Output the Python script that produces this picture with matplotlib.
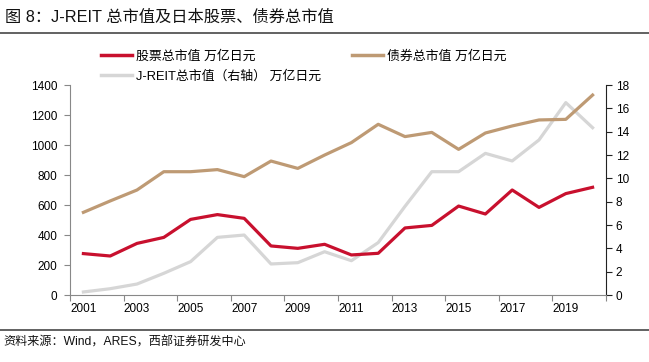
import matplotlib
matplotlib.use("Agg")
import matplotlib.pyplot as plt
from matplotlib.lines import Line2D

plt.rcParams['font.family'] = ['Liberation Sans', 'Noto Sans CJK SC', 'DejaVu Sans']

years = list(range(2001, 2021))
stocks = [276, 260, 344, 384, 504, 536, 511, 327, 311, 338, 267, 278, 447, 464,
          593, 540, 700, 584, 676, 718]
bonds = [551, 627, 700, 822, 822, 836, 789, 893, 844, 933, 1016, 1138, 1056, 1084,
         971, 1080, 1127, 1167, 1171, 1333]
jreit = [0.26, 0.54, 0.94, 1.86, 2.86, 4.94, 5.14, 2.66, 2.77, 3.71, 2.94, 4.49,
         7.6, 10.57, 10.57, 12.14, 11.49, 13.29, 16.49, 14.34]

title = "图 8：J-REIT 总市值及日本股票、债券总市值"
source = "资料来源：Wind，ARES，西部证券研发中心"
lab_stock = "股票总市值 万亿日元"
lab_bond = "债券总市值 万亿日元"
lab_jreit = "J-REIT总市值（右轴） 万亿日元"

c_red = '#C8102E'
c_tan = '#BE9A74'
c_gray = '#D6D6D6'

W, H = 649, 362
fig = plt.figure(figsize=(W / 100, H / 100), dpi=100)
ax = fig.add_axes([70 / W, (H - 295) / H, (606 - 70) / W, (295 - 85) / H])
ax2 = ax.twinx()

x = list(range(len(years)))
lw = 2.3
ax2.plot(x, jreit, color=c_gray, lw=lw, zorder=1)
ax.plot(x, bonds, color=c_tan, lw=lw, zorder=3)
ax.plot(x, stocks, color=c_red, lw=lw, zorder=3)
ax.set_zorder(ax2.get_zorder() + 1)
ax.patch.set_visible(False)

ax.set_xlim(-0.5, len(years) - 0.5)
ax.set_ylim(0, 1400)
ax2.set_ylim(0, 18)
ax.set_yticks(range(0, 1401, 200))
ax2.set_yticks(range(0, 19, 2))

ax.set_xticks([i - 0.5 for i in range(0, len(years) + 1, 2)])
ax.set_xticklabels([])
ax.set_xticks(list(range(0, len(years), 2)), minor=True)
ax.set_xticklabels([str(years[i]) for i in range(0, len(years), 2)], minor=True)
ax.tick_params(axis='x', which='minor', length=0, pad=6, labelsize=8.5)
ax.tick_params(axis='x', which='major', length=4, direction='out', color='#888888')
ax.tick_params(axis='y', length=4, direction='out', color='#888888', labelsize=8.5, pad=5)
ax2.tick_params(axis='y', length=4, direction='out', color='#222222', labelsize=8.5, pad=3)

for a in (ax, ax2):
    a.spines['top'].set_visible(False)
ax.spines['right'].set_visible(False)
ax.spines['left'].set_color('#888888')
ax.spines['bottom'].set_color('#888888')
ax2.spines['left'].set_visible(False)
ax2.spines['bottom'].set_visible(False)
ax2.spines['right'].set_color('#222222')

handles = [Line2D([], [], color=c_red, lw=2.5),
           Line2D([], [], color=c_gray, lw=2.5),
           Line2D([], [], color=c_tan, lw=2.5)]
labels = [lab_stock, lab_jreit, lab_bond]
fig.legend(handles, labels, ncol=2, frameon=False, loc='upper left',
           bbox_to_anchor=(96 / W, 1 - 45 / H), fontsize=9.3,
           handlelength=2.4, handletextpad=0.3, columnspacing=2.4,
           labelspacing=0.6, borderaxespad=0)

fig.text(5 / W, 1 - 17 / H, title, fontsize=11.7, va='center', ha='left', color='#111111')
fig.add_artist(Line2D([0, 1], [1 - 33 / H, 1 - 33 / H], color='#555555', lw=1.3,
                      transform=fig.transFigure))
fig.add_artist(Line2D([0, 1], [1 - 330 / H, 1 - 330 / H], color='#555555', lw=1.3,
                      transform=fig.transFigure))
fig.text(3 / W, 1 - 343 / H, source, fontsize=8.7, va='center', ha='left', color='#111111')

fig.savefig('out.png', dpi=100)
